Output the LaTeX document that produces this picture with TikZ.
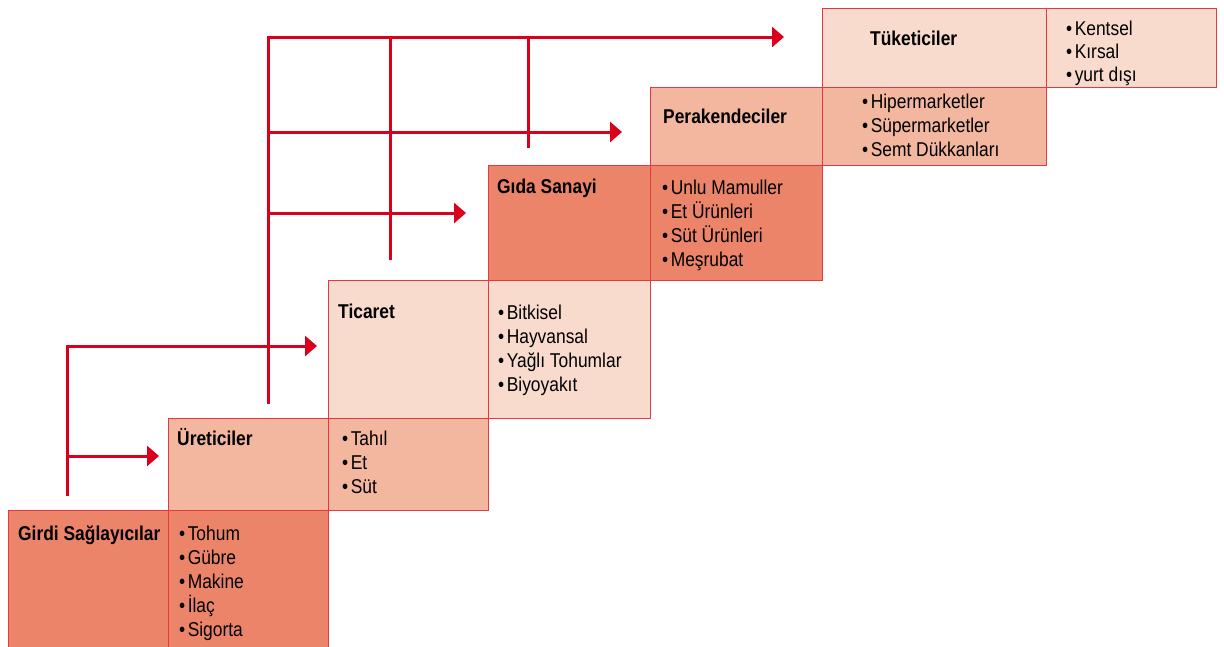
\documentclass[tikz,border=0pt]{standalone}
\usepackage{fontspec}
\setmainfont{Liberation Sans}[FakeStretch=0.87]
\usetikzlibrary{arrows.meta}
\definecolor{darkfill}{RGB}{236,132,106}
\definecolor{midfill}{RGB}{243,182,159}
\definecolor{lightfill}{RGB}{249,219,206}
\definecolor{edgered}{RGB}{228,56,68}
\definecolor{flowred}{RGB}{218,0,28}
\begin{document}
\begin{tikzpicture}[x=1pt,y=-1pt,
  box/.style={draw=edgered, line width=1.3pt, inner sep=0, anchor=north west},
  head/.style={anchor=base west, inner sep=0, font=\fontsize{20}{24}\selectfont\bfseries},
  item/.style={anchor=base west, inner sep=0, font=\fontsize{20}{24}\selectfont},
  flowline/.style={draw=flowred, line width=3pt, line join=miter},
  arr/.style={flowline, -{Triangle[length=12pt,width=20pt]}}]
\useasboundingbox (0,0) rectangle (1224,646);
% boxes
\node[box, fill=darkfill, minimum width=160pt, minimum height=140pt] (g1) at (8,510) {};
\node[box, fill=darkfill, minimum width=160pt, minimum height=140pt] (g2) at (168,510) {};
\node[box, fill=midfill, minimum width=160pt, minimum height=92pt] (u1) at (168,418) {};
\node[box, fill=midfill, minimum width=160pt, minimum height=92pt] (u2) at (328,418) {};
\node[box, fill=lightfill, minimum width=160pt, minimum height=138pt] (t1) at (328,280) {};
\node[box, fill=lightfill, minimum width=162pt, minimum height=138pt] (t2) at (488,280) {};
\node[box, fill=darkfill, minimum width=162pt, minimum height=115pt] (s1) at (488,165) {};
\node[box, fill=darkfill, minimum width=172pt, minimum height=115pt] (s2) at (650,165) {};
\node[box, fill=midfill, minimum width=172pt, minimum height=78pt] (p1) at (650,87) {};
\node[box, fill=midfill, minimum width=224pt, minimum height=78pt] (p2) at (822,87) {};
\node[box, fill=lightfill, minimum width=224pt, minimum height=79pt] (k1) at (822,8) {};
\node[box, fill=lightfill, minimum width=170pt, minimum height=79pt] (k2) at (1046,8) {};
% headings
\node[head] (gh) at (18,540) {Girdi Sağlayıcılar};
\node[head] (uh) at (177,445) {Üreticiler};
\node[head] (th) at (338,318) {Ticaret};
\node[head] (sh) at (497,193) {Gıda Sanayi};
\node[head] (ph) at (663,123) {Perakendeciler};
\node[head] (kh) at (870,45) {Tüketiciler};
% lists
\foreach \t [count=\i] in {Tohum,Gübre,Makine,İlaç,Sigorta}
  \node[item] (gl\i) at (179,516+24*\i) {•\kern2.5pt\t};
\foreach \t [count=\i] in {Tahıl,Et,Süt}
  \node[item] (ul\i) at (342,421+24*\i) {•\kern2.5pt\t};
\foreach \t [count=\i] in {Bitkisel,Hayvansal,Yağlı Tohumlar,Biyoyakıt}
  \node[item] (tl\i) at (498,295+24*\i) {•\kern2.5pt\t};
\foreach \t [count=\i] in {Unlu Mamuller,Et Ürünleri,Süt Ürünleri,Meşrubat}
  \node[item] (sl\i) at (662,170+24*\i) {•\kern2.5pt\t};
\foreach \t [count=\i] in {Hipermarketler,Süpermarketler,Semt Dükkanları}
  \node[item] (pl\i) at (862,84+24*\i) {•\kern2.5pt\t};
\foreach \t [count=\i] in {Kentsel,Kırsal,yurt dışı}
  \node[item] (kl\i) at (1066,12+23*\i) {•\kern2.5pt\t};
% connector points
\coordinate (gsrc) at (67,496);
\coordinate (gj) at (67,456);
\coordinate (toU) at (159,456);
\coordinate (toT) at (317,346);
\coordinate (usrc) at (268,404);
\coordinate (toK) at (784,37);
\coordinate (j1) at (268,132);
\coordinate (toP) at (622,132);
\coordinate (j2) at (268,213);
\coordinate (toS) at (466,213);
\coordinate (tsrc) at (390,260);
\coordinate (tj) at (390,37);
\coordinate (ssrc) at (528,148);
\coordinate (sj) at (528,37);
% connectors
\draw[arr] (gsrc) |- (toT);
\draw[arr] (gj) -- (toU);
\draw[arr] (usrc) |- (toK);
\draw[arr] (j1) -- (toP);
\draw[arr] (j2) -- (toS);
\draw[flowline] (tsrc) -- (tj);
\draw[flowline] (ssrc) -- (sj);
\end{tikzpicture}
\end{document}
